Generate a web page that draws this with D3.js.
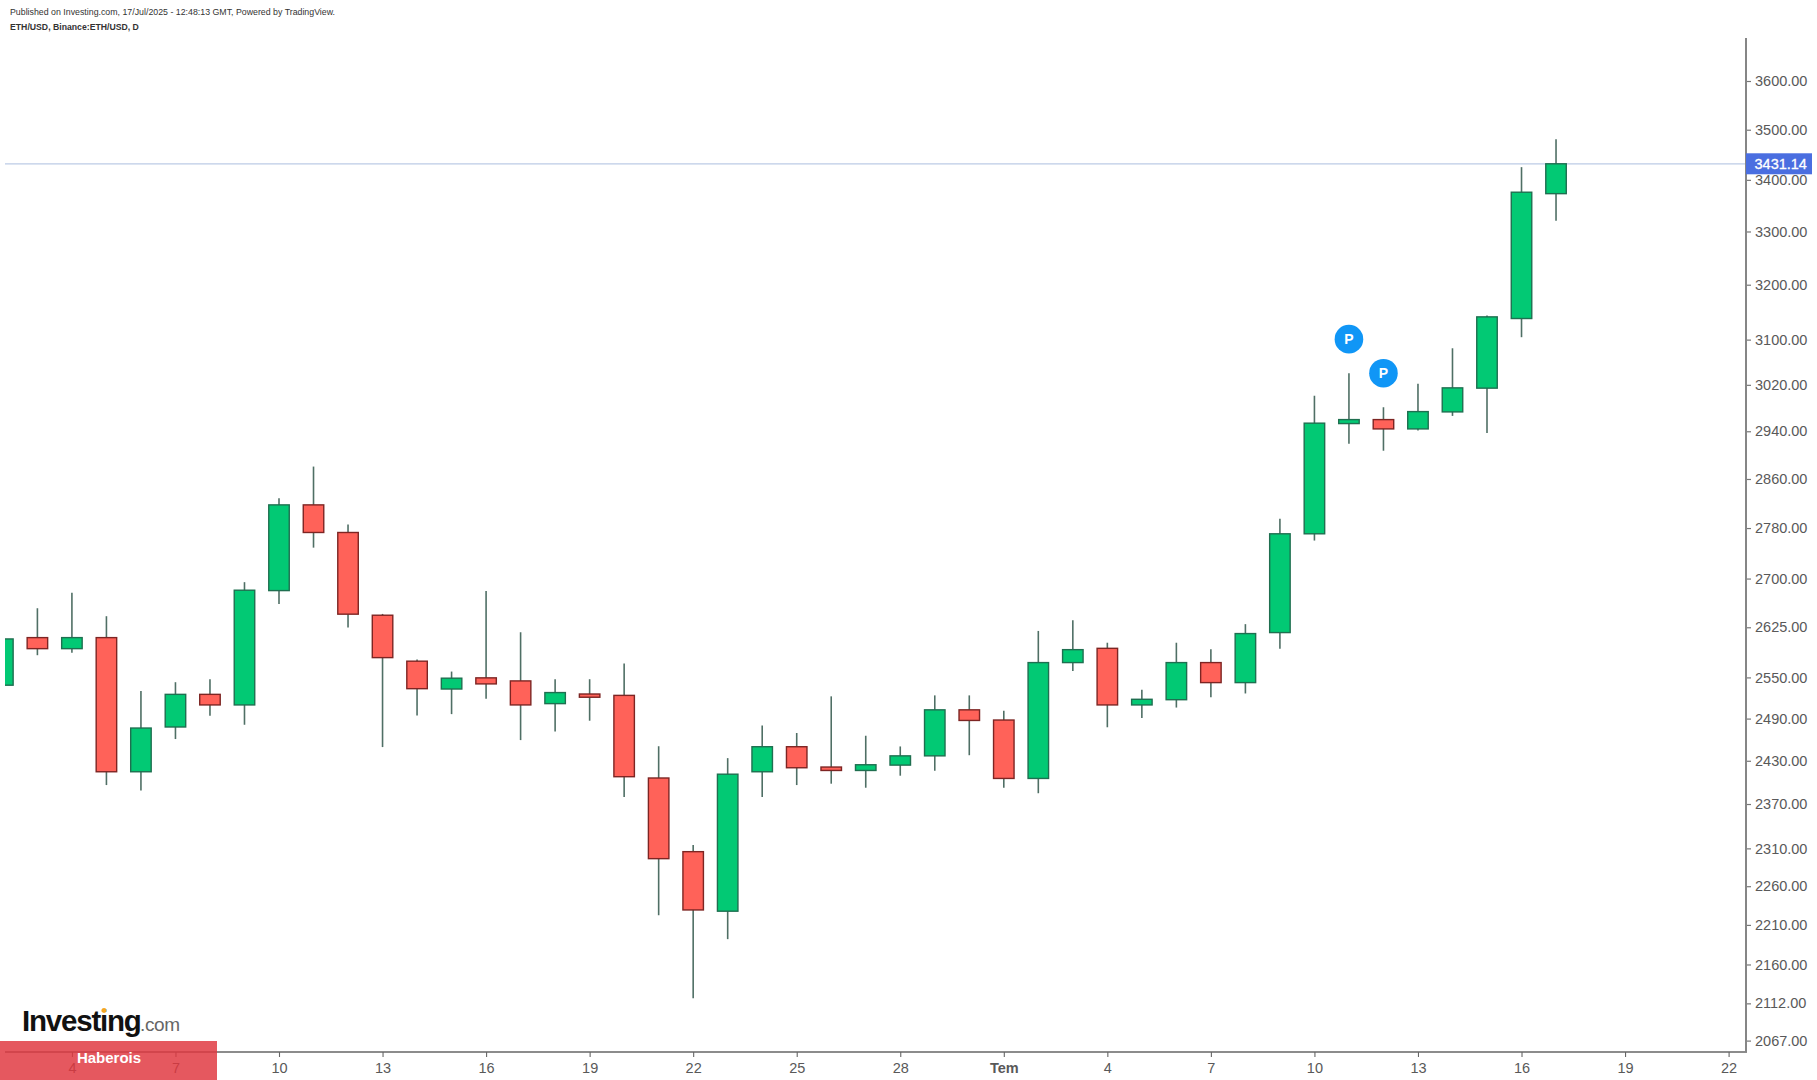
<!DOCTYPE html>
<html><head><meta charset="utf-8">
<script src="https://cdn.jsdelivr.net/npm/d3@7"></script>
<style>html,body{margin:0;padding:0;background:#fff}svg{display:block}text{font-family:"Liberation Sans",Arial,sans-serif}</style>
</head><body><svg id="c" width="1817" height="1080"></svg>
<script>
const days=["2025-06-02","2025-06-03","2025-06-04","2025-06-05","2025-06-06","2025-06-07","2025-06-08","2025-06-09","2025-06-10","2025-06-11","2025-06-12","2025-06-13","2025-06-14","2025-06-15","2025-06-16","2025-06-17","2025-06-18","2025-06-19","2025-06-20","2025-06-21","2025-06-22","2025-06-23","2025-06-24","2025-06-25","2025-06-26","2025-06-27","2025-06-28","2025-06-29","2025-06-30","2025-07-01","2025-07-02","2025-07-03","2025-07-04","2025-07-05","2025-07-06","2025-07-07","2025-07-08","2025-07-09","2025-07-10","2025-07-11","2025-07-12","2025-07-13","2025-07-14","2025-07-15","2025-07-16","2025-07-17"];
const opens=[2538.1,2608.9,2592.3,2608.9,2414.2,2477.5,2524.7,2509.3,2680.8,2817,2772.4,2642.9,2573.6,2532.5,2548.9,2544.4,2511.2,2525.2,2523.2,2405.5,2305.2,2227.2,2414.2,2449.4,2420.8,2416,2423.5,2436.5,2502.2,2487.5,2404.9,2571.5,2592.8,2509.3,2516.9,2571.5,2541.9,2616.5,2770.3,2952.6,2959.4,2943.5,2972.6,3013.7,3137.5,3372.4];
const highs=[2625,2653.6,2677.6,2641.4,2529.6,2542.5,2546.9,2693.9,2827.8,2880.1,2785.2,2644.9,2576,2558.2,2680.3,2617,2546.9,2546.9,2570,2450.1,2314.2,2433.3,2479.7,2468.9,2521.8,2465,2449.8,2523.2,2523.2,2500.8,2619,2635.3,2601.2,2531.5,2601.2,2591.4,2629.3,2794.4,3000.5,3039.9,2980.6,3021.3,3084,3142.9,3424.5,3480.3];
const lows=[2520,2582.5,2586.3,2395.7,2388.2,2460.3,2493.6,2480.7,2660.1,2748.2,2624.1,2448.9,2494,2496,2518.4,2458.8,2471.2,2486.5,2379.3,2222,2117.9,2191.5,2379.3,2395.7,2397.6,2392,2408.7,2415.6,2437.4,2392,2384.4,2559.2,2477.1,2490.3,2505.5,2520.4,2526,2592.3,2759.5,2918.4,2906.6,2940.6,2965.7,2936.4,3103.8,3320];
const closes=[2606.9,2592.3,2608.9,2414.2,2476,2524.7,2509.3,2681.4,2817,2772.4,2644.5,2578.9,2533,2548.4,2540,2509.3,2527.3,2520.5,2407.3,2295.9,2228.8,2410.8,2449.4,2419.8,2416,2424,2436.5,2502.2,2486.9,2404.9,2571.5,2590.8,2509.3,2517.5,2571.5,2541.9,2615,2770.3,2953.3,2959.4,2943.5,2973.1,3014.2,3140.5,3375.2,3431.14];
const priceTicks=[3600,3500,3400,3300,3200,3100,3020,2940,2860,2780,2700,2625,2550,2490,2430,2370,2310,2260,2210,2160,2112,2067];
const dateTicks=["2025-06-04","2025-06-07","2025-06-10","2025-06-13","2025-06-16","2025-06-19","2025-06-22","2025-06-25","2025-06-28","2025-07-01","2025-07-04","2025-07-07","2025-07-10","2025-07-13","2025-07-16","2025-07-19","2025-07-22"];
const lastPrice=3431.14;
const markerDays=["2025-07-11","2025-07-12"];
const markerPrices=[3100.3,3039.9];

const parse=d3.utcParse("%Y-%m-%d");
const svg=d3.select("#c");
const x=d3.scaleUtc().domain([parse("2025-06-10"),parse("2025-07-22")]).range([279,1728.6]);
const y=d3.scaleLog().domain([3600,2067]).range([80.7,1040.3]);
const L=5,R=1746,T=38,B=1052;
const GREEN="#02c974",RED="#ff6259";

svg.append("defs").append("clipPath").attr("id","plot").append("rect").attr("x",L).attr("y",T).attr("width",R-L).attr("height",B-T);

// header
svg.append("text").attr("x",10).attr("y",15).attr("font-size",8.8).attr("fill","#333").text("Published on Investing.com, 17/Jul/2025 - 12:48:13 GMT, Powered by TradingView.");
svg.append("text").attr("x",10).attr("y",30).attr("font-size",8.7).attr("font-weight","bold").attr("fill","#333").text("ETH/USD, Binance:ETH/USD, D");

// last price line
svg.append("line").attr("x1",L).attr("x2",R).attr("y1",y(lastPrice)).attr("y2",y(lastPrice)).attr("stroke","#bccbe6").attr("stroke-width",1.2);

// candles
const plot=svg.append("g").attr("clip-path","url(#plot)");
const idx=d3.range(days.length);
const bw=20.5;
plot.selectAll("line.w").data(idx).join("line").attr("class","w")
 .attr("x1",i=>x(parse(days[i]))).attr("x2",i=>x(parse(days[i])))
 .attr("y1",i=>y(highs[i])).attr("y2",i=>y(lows[i]))
 .attr("stroke","#4f6f65").attr("stroke-width",1.6);
plot.selectAll("rect.b").data(idx).join("rect").attr("class","b")
 .attr("x",i=>x(parse(days[i]))-bw/2).attr("width",bw)
 .attr("y",i=>y(Math.max(opens[i],closes[i])))
 .attr("height",i=>Math.max(1,y(Math.min(opens[i],closes[i]))-y(Math.max(opens[i],closes[i]))))
 .attr("fill",i=>closes[i]>=opens[i]?GREEN:RED)
 .attr("stroke",i=>closes[i]>=opens[i]?"#1f6f50":"#7d2523").attr("stroke-width",1.4);

// markers
const mk=svg.append("g").selectAll("g").data(d3.range(markerDays.length)).join("g")
 .attr("transform",i=>`translate(${x(parse(markerDays[i]))},${y(markerPrices[i])})`);
mk.append("circle").attr("r",14.3).attr("fill","#1096f6");
mk.append("text").attr("text-anchor","middle").attr("y",5).attr("font-size",14).attr("font-weight","bold").attr("fill","#fff").text("P");

// axes
const ax=svg.append("g").attr("transform",`translate(${R},0.3)`).call(d3.axisRight(y).tickValues(priceTicks).tickFormat(d3.format(".2f")).tickSize(5).tickPadding(4));
ax.select(".domain").remove();
ax.selectAll("line").attr("stroke","#777").attr("stroke-width",1.2);
ax.selectAll("text").attr("font-size",14.5).attr("fill","#595959").attr("font-family","Liberation Sans");
const bx=svg.append("g").attr("transform",`translate(0,${B})`).call(d3.axisBottom(x).tickValues(dateTicks.map(parse)).tickFormat(d=>d.getUTCDate()===1?"Tem":String(d.getUTCDate())).tickSize(5).tickPadding(5.5));
bx.select(".domain").remove();
bx.selectAll("line").attr("stroke","#666").attr("stroke-width",1.1);
bx.selectAll("text").attr("font-size",14.5).attr("fill","#595959").attr("font-family","Liberation Sans")
  .attr("font-weight",d=>d.getUTCDate()===1?"bold":"normal");
svg.append("line").attr("x1",L).attr("x2",R+1).attr("y1",B).attr("y2",B).attr("stroke","#666").attr("stroke-width",1.3);
svg.append("line").attr("x1",R).attr("x2",R).attr("y1",T).attr("y2",B).attr("stroke","#868686").attr("stroke-width",2);

// last price label
svg.append("rect").attr("x",R).attr("y",y(lastPrice)-10.5).attr("width",66).attr("height",21).attr("fill","#4a6ee0");
svg.append("text").attr("x",R+8.5).attr("y",y(lastPrice)+5.5).attr("font-size",14.5).attr("fill","#fff").attr("stroke","#fff").attr("stroke-width",.3).text(lastPrice.toFixed(2));

// logo
svg.append("text").attr("x",22).attr("y",1031).attr("font-size",29.5).attr("font-weight","bold").attr("letter-spacing",-1.2).attr("fill","#111").text("Investing");
svg.append("text").attr("x",140).attr("y",1031).attr("font-size",19).attr("letter-spacing",-.4).attr("fill","#666").text(".com");
svg.append("circle").attr("cx",104).attr("cy",1010.5).attr("r",2.4).attr("fill","#f5a623");

// banner
svg.append("rect").attr("x",0).attr("y",1041).attr("width",217).attr("height",39).attr("fill","#e0363f").attr("fill-opacity",.83);
svg.append("text").attr("x",109).attr("y",1063).attr("text-anchor","middle").attr("font-size",15).attr("font-weight","bold").attr("fill","#fff").text("Haberois");
</script></body></html>
